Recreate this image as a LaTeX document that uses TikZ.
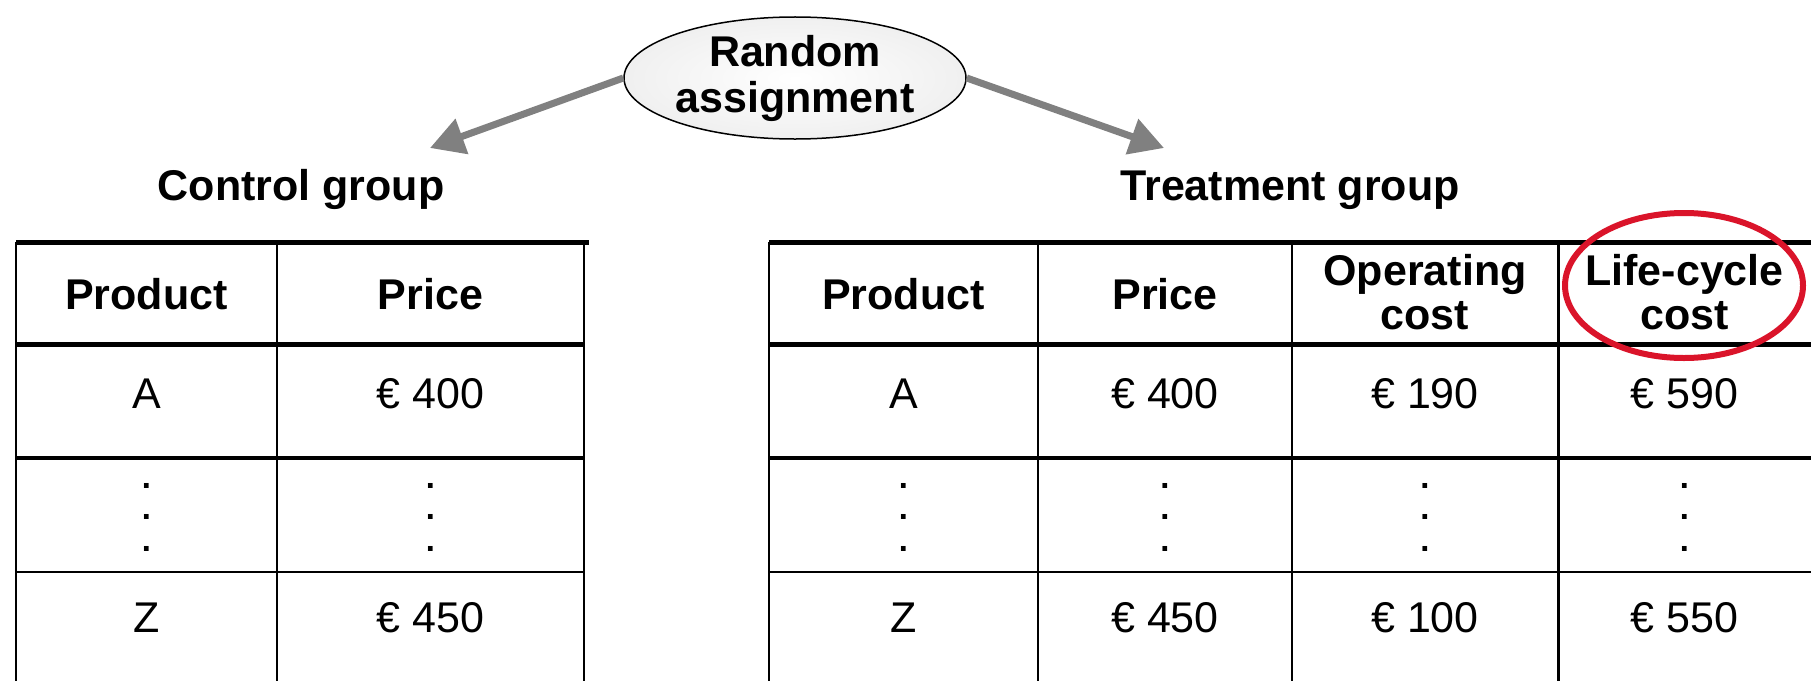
\documentclass[tikz,border=0pt]{standalone}
\usepackage{fontspec}
\setmainfont{Liberation Sans}
\newfontfamily\dotfont{DejaVu Sans}
\usetikzlibrary{shapes.geometric,arrows.meta}
\definecolor{arrowgray}{RGB}{128,128,128}
\definecolor{hlred}{RGB}{218,20,42}
\begin{document}
\begin{tikzpicture}[x=1pt,y=-1pt,
  txt/.style={font=\fontsize{43}{46}\selectfont, anchor=base, inner sep=0pt, outer sep=0pt},
  hdr/.style={font=\fontsize{43}{46}\selectfont\bfseries, anchor=base, inner sep=0pt, outer sep=0pt},
  vdots/.style={font=\dotfont\bfseries\fontsize{26.5}{31.5}\selectfont, align=center, anchor=center, inner sep=0pt, outer sep=0pt},
  thickrule/.style={line width=5pt},
  midrule/.style={line width=4pt},
  thinrule/.style={line width=2pt},
  vrule/.style={line width=2pt},
  vrulebold/.style={line width=3pt},
  assignarrow/.style={draw=arrowgray, line width=7pt, -{Triangle[length=34pt,width=36pt]}},
  randell/.style={ellipse, draw, line width=1.5pt, inner color=white, outer color=gray!12, minimum width=342pt, minimum height=110pt, inner sep=0pt, align=center, font=\fontsize{43}{46}\selectfont\bfseries},
  hlell/.style={ellipse, draw=hlred, line width=6pt, minimum width=238pt, minimum height=145pt, inner sep=0pt}
]
\useasboundingbox (0,0) rectangle (1811,680);

% Random assignment ellipse and arrows
\node[randell] (ell) at (795,78) {Random\\assignment};
\coordinate (lt) at (430,148);
\coordinate (rt) at (1164,148);
\draw[assignarrow] (ell.west) -- (lt);
\draw[assignarrow] (ell.east) -- (rt);

% group titles
\node[hdr] (cg) at (301,200) {Control group};
\node[hdr] (tg) at (1290,200) {Treatment group};

% ---------- left table ----------
\foreach \x in {16,277,584} \draw[vrule] (\x,242) -- (\x,685);
\draw[thickrule] (16,242) -- (589,242);
\draw[thickrule] (16,344) -- (584,344);
\draw[midrule] (16,458) -- (584,458);
\draw[thinrule] (16,572) -- (584,572);

\node[hdr] (lh1) at (146.5,309) {Product};
\node[hdr] (lh2) at (430.5,309) {Price};
\node[txt] (la1) at (146.5,408) {A};
\node[txt] (la2) at (430.5,408) {€ 400};
\node[vdots] (ld1) at (146.5,517) {.\\.\\.};
\node[vdots] (ld2) at (430.5,517) {.\\.\\.};
\node[txt] (lz1) at (146.5,632) {Z};
\node[txt] (lz2) at (430.5,632) {€ 450};

% ---------- right table ----------
\foreach \x in {769,1038,1292} \draw[vrule] (\x,242) -- (\x,685);
\draw[vrulebold] (1558,242) -- (1558,685);
\draw[thickrule] (769,242) -- (1811,242);
\draw[thickrule] (769,344) -- (1811,344);
\draw[midrule] (769,458) -- (1811,458);
\draw[thinrule] (769,572) -- (1811,572);

\node[hdr] (rh1) at (903.5,309) {Product};
\node[hdr] (rh2) at (1165,309) {Price};
\node[hdr] (rh3a) at (1425,285) {Operating};
\node[hdr] (rh3b) at (1425,329) {cost};
\node[hdr] (rh4a) at (1684.5,285) {Life-cycle};
\node[hdr] (rh4b) at (1684.5,329) {cost};

\node[txt] (ra1) at (903.5,408) {A};
\node[txt] (ra2) at (1165,408) {€ 400};
\node[txt] (ra3) at (1425,408) {€ 190};
\node[txt] (ra4) at (1684.5,408) {€ 590};
\node[vdots] (rd1) at (903.5,517) {.\\.\\.};
\node[vdots] (rd2) at (1165,517) {.\\.\\.};
\node[vdots] (rd3) at (1425,517) {.\\.\\.};
\node[vdots] (rd4) at (1684.5,517) {.\\.\\.};
\node[txt] (rz1) at (903.5,632) {Z};
\node[txt] (rz2) at (1165,632) {€ 450};
\node[txt] (rz3) at (1425,632) {€ 100};
\node[txt] (rz4) at (1684.5,632) {€ 550};

% highlight
\node[hlell] (hl) at (1684,285.5) {};
\end{tikzpicture}
\end{document}
